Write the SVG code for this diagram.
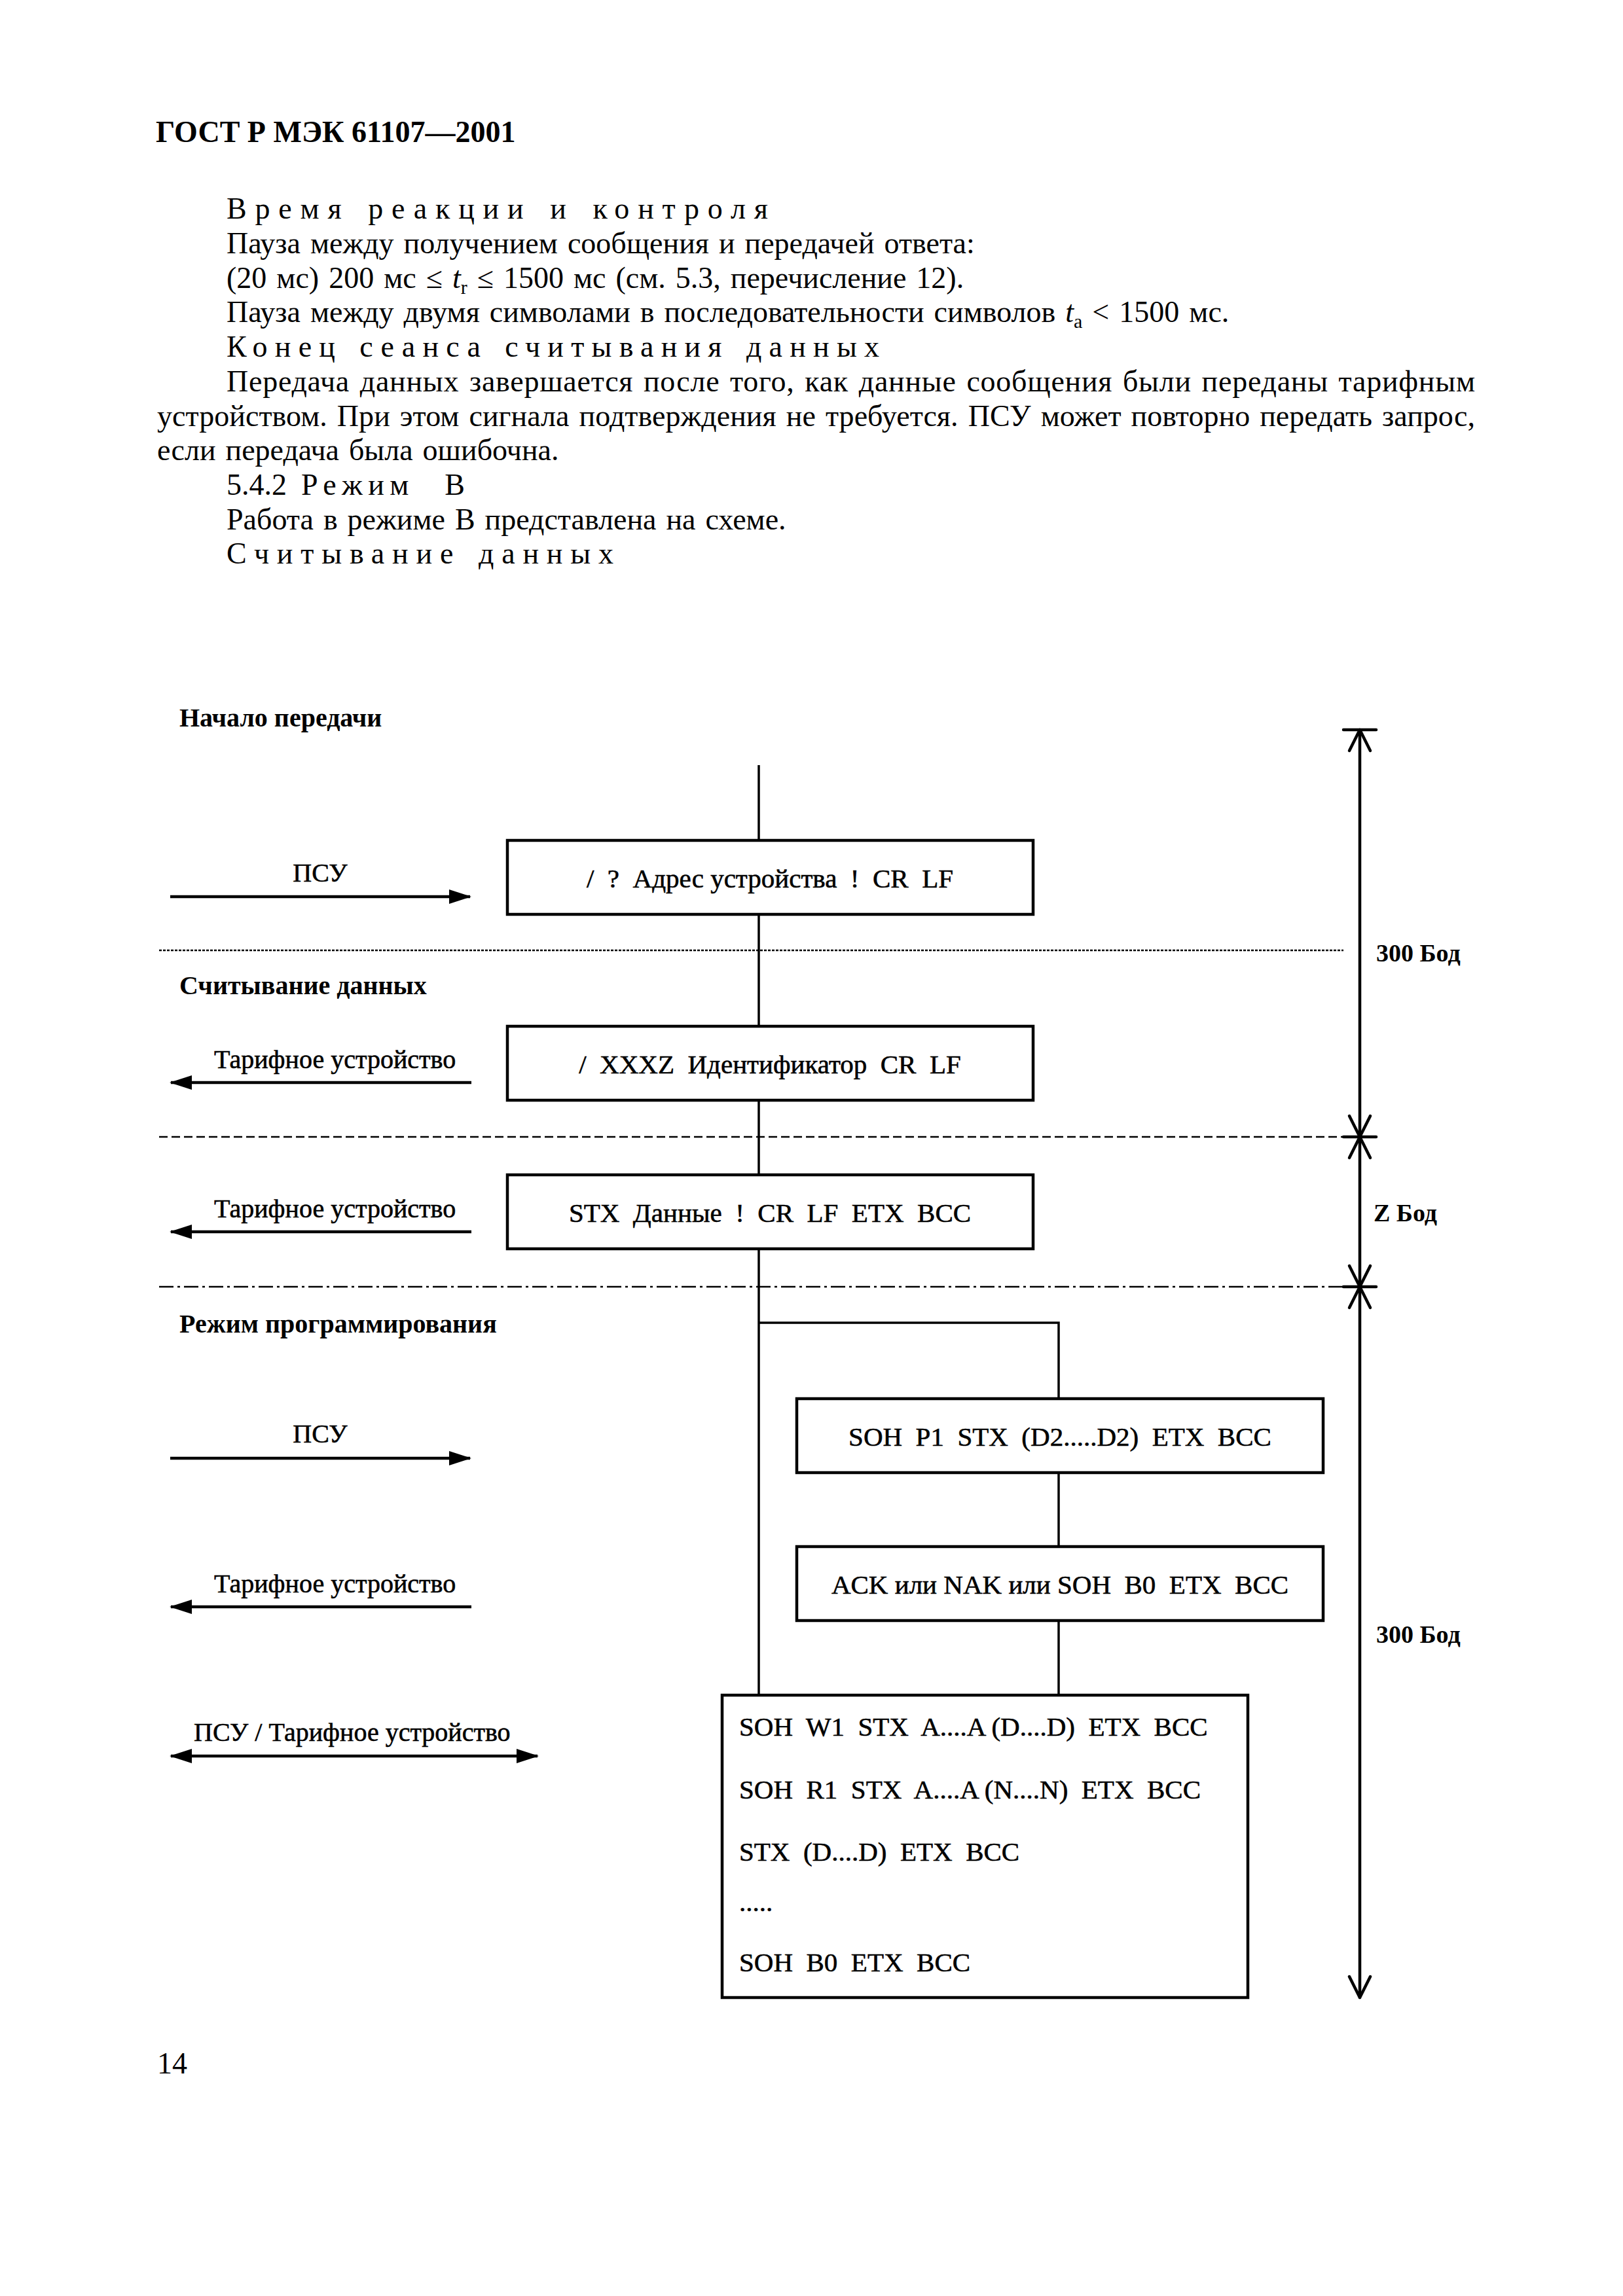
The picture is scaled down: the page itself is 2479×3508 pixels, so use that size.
<svg xmlns="http://www.w3.org/2000/svg" width="2479" height="3508" viewBox="0 0 2479 3508">
<defs>
<style>
text{font-family:"Liberation Serif","Times New Roman",serif;fill:#000}
.body{font-size:46px;word-spacing:3.5px}
.hdr{font-size:46px;font-weight:bold}
.sec{font-size:40px;font-weight:bold}
.lbl{font-size:40px;stroke:#000;stroke-width:0.6}
.box{fill:#fff;stroke:#000;stroke-width:4.5}
.bt{font-size:41px;stroke:#000;stroke-width:0.6}
.dim{font-size:38px;font-weight:bold}
.ln{fill:none;stroke:#000;stroke-width:3.5}
.arr{fill:none;stroke:#000;stroke-width:4.5}
.sep{fill:none;stroke:#000;stroke-width:2.5}
.dl{fill:none;stroke:#000;stroke-width:4.5;stroke-linecap:round;stroke-linejoin:round}
</style>
<marker id="ah" markerUnits="userSpaceOnUse" markerWidth="34" markerHeight="22" refX="32" refY="11" orient="auto-start-reverse">
<path d="M0,0 L34,11 L0,22 Z" fill="#000"/>
</marker>
</defs>
<rect width="2479" height="3508" fill="#fff"/>

<g id="page-text">
<text class="hdr" x="238" y="217">ГОСТ Р МЭК 61107—2001</text>
<text class="body" x="346" y="334" textLength="827" lengthAdjust="spacing">Время реакции и контроля</text>
<text class="body" x="346" y="387">Пауза между получением сообщения и передачей ответа:</text>
<text class="body" x="346" y="440">(20 мс) 200 мс ≤ <tspan font-style="italic">t</tspan><tspan font-size="30" dy="9">r</tspan><tspan dy="-9"> ≤ 1500 мс (см. 5.3, перечисление 12).</tspan></text>
<text class="body" x="346" y="492">Пауза между двумя символами в последовательности символов <tspan font-style="italic">t</tspan><tspan font-size="30" dy="9">a</tspan><tspan dy="-9"> &lt; 1500 мс.</tspan></text>
<text class="body" x="346" y="545" textLength="997" lengthAdjust="spacing">Конец сеанса считывания данных</text>
<text class="body" x="346" y="598" textLength="1907" lengthAdjust="spacing">Передача данных завершается после того, как данные сообщения были переданы тарифным</text>
<text class="body" x="240" y="651" textLength="2013" lengthAdjust="spacing">устройством. При этом сигнала подтверждения не требуется. ПСУ может повторно передать запрос,</text>
<text class="body" x="240" y="703">если передача была ошибочна.</text>
<text class="body" x="346" y="756">5.4.2</text>
<text class="body" x="460" y="756" textLength="250" lengthAdjust="spacing" xml:space="preserve">Режим  В</text>
<text class="body" x="346" y="809">Работа в режиме В представлена на схеме.</text>
<text class="body" x="346" y="861" textLength="591" lengthAdjust="spacing">Считывание данных</text>
<text class="body" x="240" y="3168">14</text>
</g>

<g id="section-labels">
<text class="sec" x="274" y="1110">Начало передачи</text>
<text class="sec" x="274" y="1519">Считывание данных</text>
<text class="sec" x="274" y="2036">Режим программирования</text>
</g>

<g id="separators">
<line class="sep" x1="243" y1="1452" x2="2052" y2="1452" stroke-dasharray="4 2"/>
<line class="sep" x1="243" y1="1737" x2="2052" y2="1737" stroke-dasharray="13 6"/>
<line class="sep" x1="243" y1="1966" x2="2052" y2="1966" stroke-dasharray="22 6 4 6"/>
</g>

<g id="connectors">
<line class="ln" x1="1159" y1="1169" x2="1159" y2="2590"/>
<polyline class="ln" points="1159,2021 1617,2021 1617,2137"/>
<line class="ln" x1="1617" y1="2250" x2="1617" y2="2363"/>
<line class="ln" x1="1617" y1="2476" x2="1617" y2="2590"/>
</g>

<g id="direction-arrows">
<g id="arrow-psu-1">
<text class="lbl" x="489" y="1347" text-anchor="middle">ПСУ</text>
<line class="arr" x1="260" y1="1370" x2="718" y2="1370" marker-end="url(#ah)"/>
</g>
<g id="arrow-tu-1">
<text class="lbl" x="327" y="1632">Тарифное устройство</text>
<line class="arr" x1="720" y1="1654" x2="261" y2="1654" marker-end="url(#ah)"/>
</g>
<g id="arrow-tu-2">
<text class="lbl" x="327" y="1860">Тарифное устройство</text>
<line class="arr" x1="720" y1="1882" x2="261" y2="1882" marker-end="url(#ah)"/>
</g>
<g id="arrow-psu-2">
<text class="lbl" x="489" y="2204" text-anchor="middle">ПСУ</text>
<line class="arr" x1="260" y1="2228" x2="718" y2="2228" marker-end="url(#ah)"/>
</g>
<g id="arrow-tu-3">
<text class="lbl" x="327" y="2433">Тарифное устройство</text>
<line class="arr" x1="720" y1="2455" x2="261" y2="2455" marker-end="url(#ah)"/>
</g>
<g id="arrow-both">
<text class="lbl" x="296" y="2660">ПСУ / Тарифное устройство</text>
<line class="arr" x1="261" y1="2683" x2="821" y2="2683" marker-start="url(#ah)" marker-end="url(#ah)"/>
</g>
</g>

<g id="box1">
<rect class="box" x="775" y="1284" width="803" height="113"/>
<text class="bt" x="1176" y="1356" text-anchor="middle" xml:space="preserve">/  ?  Адрес устройства  !  CR  LF</text>
</g>
<g id="box2">
<rect class="box" x="775" y="1568" width="803" height="113"/>
<text class="bt" x="1176" y="1640" text-anchor="middle" xml:space="preserve">/  XXXZ  Идентификатор  CR  LF</text>
</g>
<g id="box3">
<rect class="box" x="775" y="1795" width="803" height="113"/>
<text class="bt" x="1176" y="1867" text-anchor="middle" xml:space="preserve">STX  Данные  !  CR  LF  ETX  BCC</text>
</g>
<g id="box4">
<rect class="box" x="1217" y="2137" width="804" height="113"/>
<text class="bt" x="1619" y="2209" text-anchor="middle" xml:space="preserve">SOH  P1  STX  (D2.....D2)  ETX  BCC</text>
</g>
<g id="box5">
<rect class="box" x="1217" y="2363" width="804" height="113"/>
<text class="bt" x="1619" y="2435" text-anchor="middle" xml:space="preserve">ACK или NAK или SOH  B0  ETX  BCC</text>
</g>
<g id="box6">
<rect class="box" x="1103" y="2590" width="803" height="462"/>
<text class="bt" x="1129" y="2652" xml:space="preserve">SOH  W1  STX  A....A (D....D)  ETX  BCC</text>
<text class="bt" x="1129" y="2748" xml:space="preserve">SOH  R1  STX  A....A (N....N)  ETX  BCC</text>
<text class="bt" x="1129" y="2843" xml:space="preserve">STX  (D....D)  ETX  BCC</text>
<text class="bt" x="1129" y="2920">.....</text>
<text class="bt" x="1129" y="3012" xml:space="preserve">SOH  B0  ETX  BCC</text>
</g>

<g id="dimension">
<line class="dl" x1="2077" y1="1115" x2="2077" y2="3052"/>
<line class="dl" x1="2052" y1="1115" x2="2102" y2="1115"/>
<polyline class="dl" points="2061,1147 2077,1115 2093,1147"/>
<line class="dl" x1="2052" y1="1737" x2="2102" y2="1737"/>
<polyline class="dl" points="2061,1705 2077,1737 2093,1705"/>
<polyline class="dl" points="2061,1769 2077,1737 2093,1769"/>
<line class="dl" x1="2052" y1="1966" x2="2102" y2="1966"/>
<polyline class="dl" points="2061,1934 2077,1966 2093,1934"/>
<polyline class="dl" points="2061,1998 2077,1966 2093,1998"/>
<polyline class="dl" points="2061,3020 2077,3052 2093,3020"/>
<text class="dim" x="2102" y="1469">300 Бод</text>
<text class="dim" x="2098" y="1866">Z Бод</text>
<text class="dim" x="2102" y="2510">300 Бод</text>
</g>
</svg>
